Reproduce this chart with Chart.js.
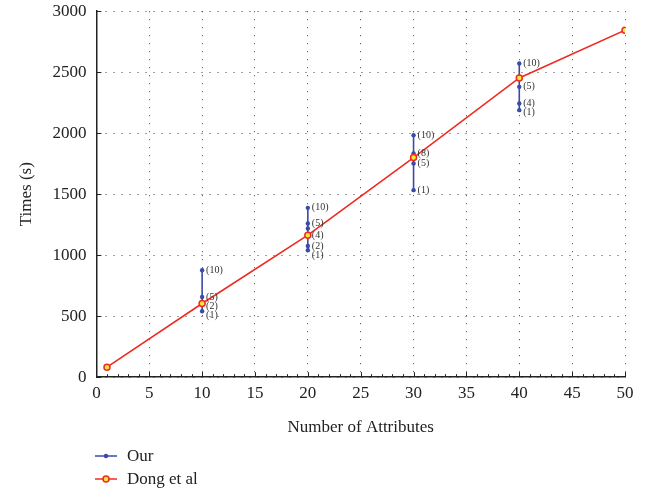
<!DOCTYPE html>
<html>
<head>
<meta charset="utf-8">
<script src="https://cdn.jsdelivr.net/npm/chart.js@4/dist/chart.umd.min.js"></script>
<style>
  html, body { margin: 0; padding: 0; background: #fff; overflow: hidden; }
  #wrap { position: relative; width: 657px; height: 494px; overflow: hidden; }
  #c { position: absolute; left: 0; top: -9px; }
  #legend { position: absolute; left: 95px; top: 444px; font-family: "Liberation Serif", serif; font-size: 17px; color: #222; }
  .row { display: flex; align-items: center; height: 23px; }
  .row svg { margin-right: 10px; }
</style>
</head>
<body>
<div id="wrap">
  <canvas id="c" width="657" height="503"></canvas>
  <div id="legend">
    <div class="row"><svg width="22" height="10"><line x1="0" y1="5" x2="22" y2="5" stroke="#3a4aa8" stroke-width="1.5"/><circle cx="11" cy="5" r="2.2" fill="#3a4aa8"/></svg><span>Our</span></div>
    <div class="row"><svg width="22" height="10"><line x1="0" y1="5" x2="22" y2="5" stroke="#ee2b22" stroke-width="1.5"/><circle cx="11" cy="5" r="3" fill="#f5e63a" stroke="#ee2b22" stroke-width="1.5"/></svg><span>Dong et al</span></div>
  </div>
</div>
<script>
// ---- data ----
const seriesNames = ["Our", "Dong et al"];
const ourAttributes = [10, 20, 30, 40];
const ourTimes = [
  [877, 658, 604, 541],
  [1388, 1260, 1219, 1164, 1076, 1041],
  [1984, 1834, 1752, 1533],
  [2571, 2380, 2243, 2189]
];
const ourLabels = [
  ["(10)", "(5)", "(2)", "(1)"],
  ["(10)", "(5)", "", "(4)", "(2)", "(1)"],
  ["(10)", "(8)", "(5)", "(1)"],
  ["(10)", "(5)", "(4)", "(1)"]
];
const dongAttributes = [1, 10, 20, 30, 40, 50];
const dongTimes = [82, 604, 1164, 1800, 2453, 2844];
const xTicks = [0, 5, 10, 15, 20, 25, 30, 35, 40, 45, 50];
const yTicks = [0, 500, 1000, 1500, 2000, 2500, 3000];

// ---- build datasets ----
const ourData = [];
const ourPointLabels = [];
ourAttributes.forEach((a, i) => {
  ourTimes[i].forEach((t, j) => { ourData.push({x: a, y: t}); ourPointLabels.push(ourLabels[i][j]); });
  ourData.push({x: a, y: null}); ourPointLabels.push("");
});
const dongData = dongAttributes.map((a, i) => ({x: a, y: dongTimes[i]}));

const FONT = "'Liberation Serif', serif";

const extras = {
  id: 'extras',
  afterDatasetsDraw(chart) {
    const ctx = chart.ctx;
    const xs = chart.scales.x, ys = chart.scales.y;
    ctx.save();
    // inward ticks
    ctx.strokeStyle = '#222';
    ctx.lineWidth = 1;
    const yb = ys.getPixelForValue(0);
    for (let v = 0; v <= 50; v++) {
      const px = Math.round(xs.getPixelForValue(v)) + 0.5;
      const len = v % 5 === 0 ? 5 : 3;
      ctx.beginPath(); ctx.moveTo(px, yb); ctx.lineTo(px, yb - len); ctx.stroke();
    }
    const xl = xs.getPixelForValue(0);
    yTicks.forEach(v => {
      const py = Math.round(ys.getPixelForValue(v)) + 0.5;
      ctx.beginPath(); ctx.moveTo(xl, py); ctx.lineTo(xl + 5, py); ctx.stroke();
    });
    // point labels for "Our"
    const meta = chart.getDatasetMeta(0);
    ctx.font = "10px " + FONT;
    ctx.fillStyle = '#333';
    ctx.textBaseline = 'middle';
    ctx.textAlign = 'left';
    let groups = {};
    meta.data.forEach((pt, i) => {
      const lab = ourPointLabels[i];
      if (!lab || ourData[i].y === null) return;
      (groups[ourData[i].x] = groups[ourData[i].x] || []).push({x: pt.x, y: pt.y, lab});
    });
    Object.values(groups).forEach(g => {
      g.sort((a, b) => a.y - b.y);
      let last = -1e9;
      g.forEach(it => {
        let yy = Math.max(it.y, last + 9);
        ctx.fillText(it.lab, it.x + 4, yy);
        last = yy;
      });
    });
    ctx.restore();
  }
};

new Chart(document.getElementById('c'), {
  type: 'line',
  data: {
    datasets: [
      {
        label: seriesNames[0], data: ourData, borderColor: '#3a4aa8', backgroundColor: '#3a4aa8',
        borderWidth: 1.6, pointRadius: 2.2, pointBorderWidth: 0, spanGaps: false, order: 2
      },
      {
        label: seriesNames[1], data: dongData, borderColor: '#ee2b22', backgroundColor: '#f5e63a',
        borderWidth: 1.6, pointRadius: 3, pointBorderWidth: 1.5, pointBorderColor: '#ee2b22', order: 1
      }
    ]
  },
  options: {
    responsive: false,
    animation: false,
    layout: { padding: { top: 0, right: 32, bottom: 52, left: 12 } },
    plugins: { legend: { display: false }, tooltip: { enabled: false } },
    scales: {
      x: {
        type: 'linear', min: 0, max: 50,
        afterBuildTicks: s => { s.ticks = xTicks.map(v => ({value: v})); },
        ticks: { font: { family: FONT, size: 17 }, color: '#222', padding: 6, maxRotation: 0, callback: v => String(v) },
        grid: { color: '#444', drawTicks: false, lineWidth: 1 },
        border: { color: '#222', width: 1.5, dash: [1, 7] },
        title: { display: true, text: 'Number of Attributes', font: { family: FONT, size: 17 }, color: '#222', padding: { top: 8 } }
      },
      y: {
        type: 'linear', min: 0, max: 3000,
        afterBuildTicks: s => { s.ticks = yTicks.map(v => ({value: v})); },
        ticks: { font: { family: FONT, size: 17 }, color: '#222', padding: 10, callback: v => String(v) },
        grid: { color: '#444', drawTicks: false, lineWidth: 1 },
        border: { color: '#222', width: 1.5, dash: [1, 7] },
        title: { display: true, text: 'Times (s)', font: { family: FONT, size: 17 }, color: '#222', padding: { bottom: 6 } }
      }
    }
  },
  plugins: [extras]
});
</script>
</body>
</html>
